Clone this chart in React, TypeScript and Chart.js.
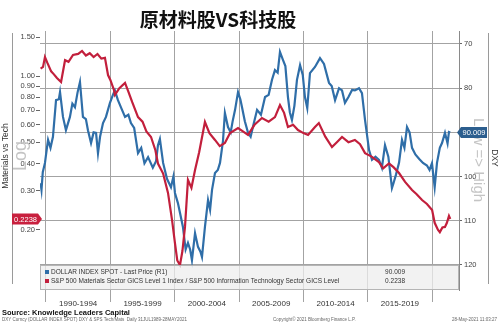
import React, { useEffect, useRef } from 'react';
import { Chart, registerables } from 'chart.js';

Chart.register(...registerables);

// ---- data ----
const dxyDates = [
  1989.58, 1989.65, 1989.75, 1989.92, 1990.05, 1990.16, 1990.35, 1990.54, 1990.78, 1991.0,
  1991.09, 1991.32, 1991.55, 1991.86, 1992.05, 1992.25, 1992.45, 1992.64, 1992.87, 1993.1,
  1993.26, 1993.5, 1993.7, 1993.89, 1994.04, 1994.2, 1994.43, 1994.66, 1994.97, 1995.2,
  1995.35, 1995.59, 1995.85, 1996.14, 1996.4, 1996.6, 1996.85, 1997.15, 1997.4, 1997.65,
  1997.93, 1998.3, 1998.55, 1998.7, 1998.85, 1999.1, 1999.4, 1999.71, 1999.9, 2000.02,
  2000.25, 2000.41, 2000.64, 2000.85, 2001.03, 2001.2, 2001.34, 2001.58, 2001.81, 2002.0,
  2002.12, 2002.35, 2002.59, 2002.75, 2002.9, 2003.13, 2003.35, 2003.52, 2003.75, 2003.9,
  2004.14, 2004.35, 2004.5, 2004.69, 2004.92, 2005.1, 2005.23, 2005.45, 2005.7, 2005.9,
  2006.1, 2006.4, 2006.7, 2007.02, 2007.3, 2007.56, 2007.79, 2008.0, 2008.18, 2008.41,
  2008.6, 2008.8, 2008.95, 2009.11, 2009.3, 2009.5, 2009.74, 2009.95, 2010.12, 2010.3,
  2010.51, 2010.9, 2011.29, 2011.6, 2011.99, 2012.2, 2012.46, 2012.77, 2013.0, 2013.23,
  2013.5, 2013.78, 2014.0, 2014.32, 2014.55, 2014.79, 2015.1, 2015.33, 2015.6, 2015.87,
  2016.1, 2016.34, 2016.6, 2016.88, 2017.0, 2017.2, 2017.43, 2017.66, 2017.85, 2018.05,
  2018.25, 2018.44, 2018.7, 2019.0, 2019.29, 2019.6, 2019.8, 2019.99, 2020.2, 2020.38,
  2020.6, 2020.77, 2021.0, 2021.2, 2021.31, 2021.41,
];
const dxyValues = [
  101.5, 103.0, 99.0, 96.9, 94.0, 91.7, 93.5, 91.0, 82.7, 82.5,
  80.9, 86.5, 89.5, 86.5, 83.5, 84.3, 81.0, 78.6, 86.5, 87.0,
  89.5, 92.4, 90.0, 90.1, 94.7, 91.0, 87.9, 86.5, 83.3, 81.5,
  80.5, 82.7, 84.5, 86.5, 86.0, 87.9, 89.0, 94.7, 93.5, 97.0,
  95.6, 98.0, 96.5, 92.9, 91.5, 96.9, 100.5, 102.4, 100.0, 103.7,
  106.0, 108.2, 111.4, 116.5, 115.0, 116.5, 118.9, 112.8, 115.9, 117.0,
  118.2, 111.4, 105.3, 107.5, 103.0, 99.2, 98.5, 96.9, 92.0, 85.6,
  88.8, 90.0, 87.5, 84.9, 80.9, 82.5, 84.3, 87.5, 90.1, 91.0,
  88.5, 84.9, 86.0, 82.0, 81.5, 78.1, 75.9, 76.5, 71.8, 73.6,
  75.0, 82.0, 85.5, 87.2, 84.0, 78.1, 74.8, 77.0, 82.0, 84.5,
  76.6, 75.2, 73.2, 74.5, 78.8, 79.5, 82.7, 80.0, 80.5, 83.3,
  82.0, 80.4, 80.5, 80.0, 81.1, 87.2, 94.0, 96.2, 95.5, 96.2,
  98.0, 92.9, 95.5, 102.6, 101.5, 99.5, 96.9, 91.7, 93.5, 88.8,
  90.0, 93.5, 95.0, 96.0, 96.9, 97.5, 98.5, 97.0, 102.4, 96.9,
  93.5, 92.4, 90.1, 92.5, 89.9, 90.009,
];

const ratioDates = [
  1989.58, 1989.77, 1989.92, 1990.1, 1990.4, 1990.6, 1990.85, 1991.17, 1991.48, 1991.75,
  1992.1, 1992.5, 1992.8, 1993.1, 1993.4, 1993.7, 1994.0, 1994.3, 1994.58, 1994.82,
  1995.0, 1995.28, 1995.36, 1995.7, 1996.14, 1996.4, 1996.7, 1997.15, 1997.5, 1997.8,
  1998.16, 1998.5, 1998.7, 1999.1, 1999.48, 1999.8, 2000.02, 2000.2, 2000.41, 2000.6,
  2000.8, 2001.03, 2001.3, 2001.58, 2001.9, 2002.35, 2002.7, 2003.13, 2003.5, 2003.9,
  2004.3, 2004.92, 2005.3, 2005.7, 2006.2, 2006.78, 2007.3, 2007.79, 2008.18, 2008.5,
  2008.8, 2009.2, 2009.58, 2010.0, 2010.36, 2010.9, 2011.2, 2011.7, 2012.22, 2012.6,
  2013.0, 2013.5, 2014.0, 2014.4, 2014.79, 2015.3, 2015.87, 2016.2, 2016.65, 2017.0,
  2017.43, 2017.9, 2018.44, 2018.8, 2019.22, 2019.6, 2020.0, 2020.2, 2020.45, 2020.6,
  2020.8, 2021.0, 2021.15, 2021.31, 2021.41,
];
const ratioValues = [
  1.08, 1.10, 1.22, 1.15, 1.05, 1.02, 0.98, 0.94, 1.18, 1.16,
  1.246, 1.26, 1.30, 1.24, 1.27, 1.22, 1.26, 1.20, 1.21, 1.01,
  0.96, 0.864, 0.82, 0.88, 0.93, 0.85, 0.76, 0.65, 0.62, 0.56,
  0.528, 0.46, 0.40, 0.36, 0.294, 0.22, 0.174, 0.145, 0.138, 0.16,
  0.206, 0.337, 0.31, 0.374, 0.45, 0.618, 0.55, 0.512, 0.48, 0.496,
  0.55, 0.58, 0.56, 0.54, 0.60, 0.644, 0.62, 0.65, 0.738, 0.68,
  0.586, 0.60, 0.568, 0.55, 0.54, 0.586, 0.611, 0.53, 0.475, 0.50,
  0.528, 0.50, 0.512, 0.49, 0.446, 0.43, 0.406, 0.38, 0.40, 0.385,
  0.362, 0.33, 0.303, 0.29, 0.273, 0.262, 0.246, 0.215, 0.20, 0.195,
  0.205, 0.206, 0.215, 0.231, 0.2238,
];

const ratioTicks = [1.5, 1.0, 0.9, 0.8, 0.7, 0.6, 0.5, 0.4, 0.3, 0.2];
const dxyTicks = [70, 80, 90, 100, 110, 120];
const periodStarts = [1990, 1995, 2000, 2005, 2010, 2015, 2020];
const periodLabels = ['1990-1994', '1995-1999', '2000-2004', '2005-2009', '2010-2014', '2015-2019'];
const lastDxy = 90.009;
const lastRatio = 0.2238;

const BLUE = '#2f6ea8';
const RED = '#c21f3c';
const GRID = '#a3a3a3';

const decor = {
  id: 'decor',
  afterDatasetsDraw(chart: any) {
    const { ctx, chartArea } = chart;
    ctx.save();

    // legend box
    const lx = chartArea.left, ly = 265, lw = chartArea.right - chartArea.left, lh = chartArea.bottom - 265;
    ctx.fillStyle = 'rgba(238,238,238,0.75)';
    ctx.fillRect(lx, ly, lw, lh);
    ctx.strokeStyle = '#b5b5b5';
    ctx.lineWidth = 1;
    ctx.strokeRect(lx + 0.5, ly + 0.5, lw - 1, lh - 1);
    ctx.font = '6.5px "Liberation Sans", Arial, sans-serif';
    ctx.textBaseline = 'middle';
    ctx.textAlign = 'left';
    ctx.fillStyle = BLUE;
    ctx.fillRect(45, 270, 4, 4);
    ctx.fillStyle = RED;
    ctx.fillRect(45, 279, 4, 4);
    ctx.fillStyle = '#333';
    ctx.fillText('DOLLAR INDEX SPOT - Last Price (R1)', 51, 272.5);
    ctx.fillText('S&P 500 Materials Sector GICS Level 1 Index / S&P 500 Information Technology Sector GICS Level', 51, 281.5);
    ctx.textAlign = 'right';
    ctx.fillText(String(lastDxy.toFixed(3)), 405, 272.5);
    ctx.fillText(String(lastRatio), 405, 281.5);

    ctx.restore();
  },
  afterDraw(chart: any) {
    const { ctx, scales } = chart;
    const yR = scales.y;
    const yD = scales.y1;
    ctx.save();

    // title
    ctx.fillStyle = '#111';
    ctx.font = 'bold 19px "Noto Sans CJK SC", sans-serif';
    ctx.textAlign = 'center';
    ctx.textBaseline = 'middle';
    ctx.fillText('原材料股VS科技股', 218, 20);

    // frame lines
    ctx.strokeStyle = '#9a9a9a';
    ctx.lineWidth = 1;
    ctx.beginPath();
    ctx.moveTo(12.5, 33); ctx.lineTo(12.5, 284);
    ctx.moveTo(488.5, 33); ctx.lineTo(488.5, 284);
    ctx.stroke();

    // left axis titles
    ctx.save();
    ctx.translate(5.5, 156);
    ctx.rotate(-Math.PI / 2);
    ctx.fillStyle = '#333';
    ctx.font = '8.5px "Liberation Sans", Arial, sans-serif';
    ctx.fillText('Materials vs Tech', 0, 0);
    ctx.restore();
    ctx.save();
    ctx.translate(21.5, 156);
    ctx.rotate(-Math.PI / 2);
    ctx.fillStyle = '#c4c4c4';
    ctx.font = '18px "Liberation Sans", Arial, sans-serif';
    ctx.fillText('Log', 0, 0);
    ctx.restore();

    // right axis titles
    ctx.save();
    ctx.translate(478, 160);
    ctx.rotate(Math.PI / 2);
    ctx.fillStyle = '#c4c4c4';
    ctx.font = '15px "Liberation Sans", Arial, sans-serif';
    ctx.fillText('Low => High', 0, 0);
    ctx.restore();
    ctx.save();
    ctx.translate(494, 158);
    ctx.rotate(Math.PI / 2);
    ctx.fillStyle = '#333';
    ctx.font = '8.5px "Liberation Sans", Arial, sans-serif';
    ctx.fillText('DXY', 0, 0);
    ctx.restore();

    // last value tags
    const yb = yD.getPixelForValue(lastDxy);
    ctx.fillStyle = '#2c5e8e';
    ctx.beginPath();
    ctx.moveTo(457, yb);
    ctx.lineTo(461, yb - 5.5);
    ctx.lineTo(487, yb - 5.5);
    ctx.lineTo(487, yb + 5.5);
    ctx.lineTo(461, yb + 5.5);
    ctx.closePath();
    ctx.fill();
    ctx.fillStyle = '#fff';
    ctx.font = '7.5px "Liberation Sans", Arial, sans-serif';
    ctx.textAlign = 'center';
    ctx.fillText(lastDxy.toFixed(3), 474, yb + 0.5);

    const yr = yR.getPixelForValue(lastRatio);
    ctx.fillStyle = '#c8203e';
    ctx.beginPath();
    ctx.moveTo(12, yr - 5.5);
    ctx.lineTo(38, yr - 5.5);
    ctx.lineTo(42, yr);
    ctx.lineTo(38, yr + 5.5);
    ctx.lineTo(12, yr + 5.5);
    ctx.closePath();
    ctx.fill();
    ctx.fillStyle = '#fff';
    ctx.fillText(String(lastRatio), 25.5, yr + 0.5);

    // footers
    ctx.textAlign = 'left';
    ctx.fillStyle = '#111';
    ctx.font = 'bold 7.5px "Liberation Sans", Arial, sans-serif';
    ctx.fillText('Source: Knowledge Leaders Capital', 2, 313);
    ctx.fillStyle = '#666';
    ctx.font = '4.5px "Liberation Sans", Arial, sans-serif';
    ctx.fillText('DXY Curncy (DOLLAR INDEX SPOT) DXY & SPS Tech/Mats  Daily 31JUL1989-28MAY2021', 2, 320);
    ctx.fillText('Copyright© 2021 Bloomberg Finance L.P.', 273, 320);
    ctx.textAlign = 'right';
    ctx.fillText('28-May-2021 11:03:27', 497, 320);

    ctx.restore();
  },
};

export default function App() {
  const ref = useRef<HTMLCanvasElement>(null);

  useEffect(() => {
    if (!ref.current) return;
    const tickFont = { family: '"Liberation Sans", Arial, sans-serif', size: 7.5 };
    const isStart = (v: number) => periodStarts.includes(v);
    const chart = new Chart(ref.current, {
      type: 'line',
      data: {
        datasets: [
          {
            label: 'S&P 500 Materials / IT',
            data: ratioDates.map((d, i) => ({ x: d, y: ratioValues[i] })),
            yAxisID: 'y',
            borderColor: RED,
            borderWidth: 2.2,
            pointRadius: 0,
            tension: 0,
            order: 0,
          },
          {
            label: 'DOLLAR INDEX SPOT',
            data: dxyDates.map((d, i) => ({ x: d, y: dxyValues[i] })),
            yAxisID: 'y1',
            borderColor: BLUE,
            borderWidth: 2.2,
            pointRadius: 0,
            tension: 0,
            order: 1,
          },
        ],
      },
      options: {
        animation: false,
        responsive: false,
        devicePixelRatio: 1,
        layout: { padding: { top: 31, bottom: 16, left: 0, right: 0 } },
        plugins: { legend: { display: false }, title: { display: false }, tooltip: { enabled: false } },
        scales: {
          x: {
            type: 'linear',
            position: 'bottom',
            min: 1989.534,
            max: 2022.09,
            afterBuildTicks: (s: any) => {
              const vals = [...periodStarts, ...periodLabels.map((_, i) => periodStarts[i] + 2.5)].sort((a, b) => a - b);
              s.ticks = vals.map((v) => ({ value: v }));
            },
            afterFit: (s: any) => { s.height = 18; },
            ticks: {
              autoSkip: false,
              maxRotation: 0,
              padding: -3,
              color: '#333',
              font: { family: '"Liberation Sans", Arial, sans-serif', size: 8 },
              callback: (v: any) => {
                const i = periodStarts.indexOf(Number(v) - 2.5);
                return i >= 0 ? periodLabels[i] : '';
              },
            },
            grid: {
              color: (c: any) => (c.tick && isStart(c.tick.value) ? GRID : 'rgba(0,0,0,0)'),
              tickColor: (c: any) => (c.tick && isStart(c.tick.value) ? GRID : 'rgba(0,0,0,0)'),
              tickLength: 12,
              lineWidth: 1,
            },
            border: { display: false },
          },
          y: {
            type: 'logarithmic',
            position: 'left',
            min: 0.1064,
            max: 1.602,
            afterBuildTicks: (s: any) => { s.ticks = ratioTicks.map((v) => ({ value: v })); },
            afterFit: (s: any) => { s.width = 40; },
            ticks: {
              autoSkip: false,
              padding: 1,
              color: '#444',
              font: tickFont,
              callback: (v: any) => Number(v).toFixed(2),
            },
            grid: { drawOnChartArea: false, tickLength: 4, tickColor: '#666' },
            border: { display: false },
          },
          y1: {
            type: 'linear',
            position: 'right',
            reverse: true,
            min: 67.06,
            max: 125.66,
            afterBuildTicks: (s: any) => { s.ticks = dxyTicks.map((v) => ({ value: v })); },
            afterFit: (s: any) => { s.width = 40; },
            ticks: {
              autoSkip: false,
              padding: 2,
              color: '#444',
              font: tickFont,
              callback: (v: any) => String(v),
            },
            grid: { color: GRID, lineWidth: 1, tickLength: 3, tickColor: '#666' },
            border: { display: true, color: '#8a8a8a' },
          },
        },
      },
      plugins: [decor],
    });
    return () => chart.destroy();
  }, []);

  return (
    <div style={{ position: 'fixed', left: 0, top: 0, width: 499, height: 324, background: '#fff' }}>
      <canvas ref={ref} width={499} height={324} style={{ width: 499, height: 324, display: 'block' }} />
    </div>
  );
}
